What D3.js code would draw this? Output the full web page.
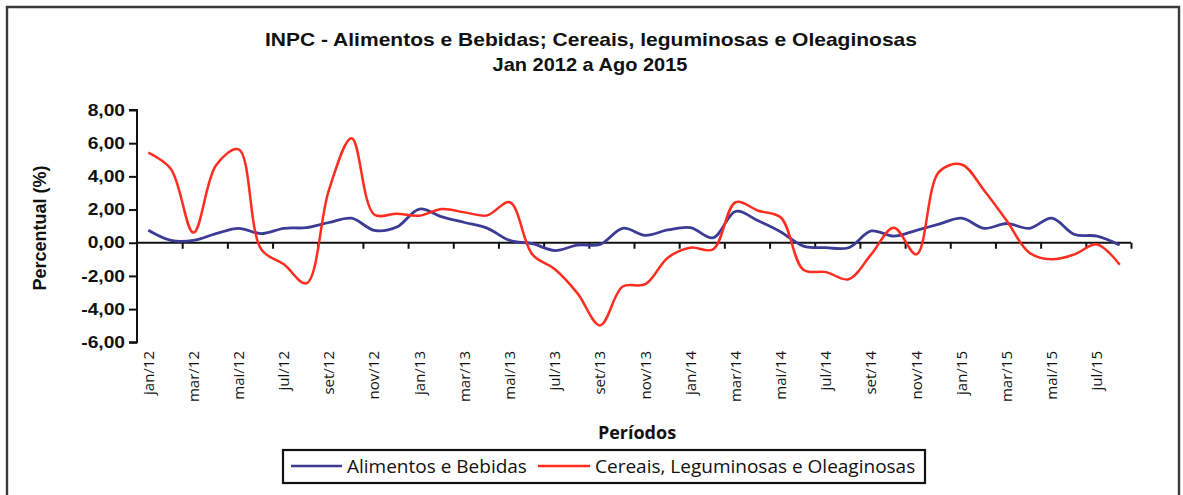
<!DOCTYPE html>
<html>
<head>
<meta charset="utf-8">
<script src="https://cdn.jsdelivr.net/npm/d3@7"></script>
<style>
  html, body { margin: 0; padding: 0; background: #fff; }
  svg { display: block; }
</style>
</head>
<body>
<svg id="chart" width="1183" height="495"></svg>
<script>
const titleLines = ["INPC - Alimentos e Bebidas; Cereais, leguminosas e Oleaginosas", "Jan 2012 a Ago 2015"];
const monthNames = ["jan","fev","mar","abr","mai","jun","jul","ago","set","out","nov","dez"];
const years = ["12","13","14","15"];
const categories = [];
years.forEach(y => monthNames.forEach(m => categories.push(m + "/" + y)));
categories.splice(44); // jan/12 .. ago/15

const seriesNames = ["Alimentos e Bebidas", "Cereais, Leguminosas e Oleaginosas"];
const alimentos = [0.75,0.14,0.14,0.55,0.87,0.55,0.87,0.91,1.22,1.48,0.75,0.95,
                   2.03,1.56,1.22,0.88,0.14,-0.06,-0.47,-0.14,-0.10,0.87,0.45,0.77,
                   0.91,0.30,1.89,1.32,0.65,-0.20,-0.30,-0.30,0.71,0.40,0.75,1.12,
                   1.48,0.87,1.16,0.87,1.48,0.50,0.40,-0.14];
const cereais = [5.43,4.45,0.61,4.67,5.63,-0.40,-1.30,-2.45,3.20,6.30,1.70,1.75,
                 1.63,2.03,1.83,1.65,2.44,-0.70,-1.60,-3.05,-4.98,-2.64,-2.50,-0.90,
                 -0.30,-0.40,2.44,1.93,1.52,-1.63,-1.77,-2.20,-0.70,0.91,-0.70,4.27,
                 4.72,3.15,1.32,-0.60,-1.00,-0.70,-0.10,-1.32];
const yTicks = [-6,-4,-2,0,2,4,6,8];
const xLabelCats = categories.filter((c, i) => i % 2 === 0);
const yLabel = "Percentual (%)";
const xLabel = "Períodos";
const colors = ["#3c3b95", "#ff2d20"];

const svg = d3.select("#chart");
const plotL = 137, plotR = 1131, plotT = 110, plotB = 342.3;

// outer frame (open at the bottom edge)
svg.append("path")
  .attr("d", `M7,496 L7,7 L1179,7 L1179,496`)
  .attr("fill", "none").attr("stroke", "#3a3a3a").attr("stroke-width", 2.4);

const x = d3.scaleBand().domain(categories).range([plotL, plotR]).paddingInner(0).paddingOuter(0);
const xc = c => x(c) + x.bandwidth() / 2;
const xi = d3.scaleLinear().domain([0, categories.length]).range([plotL, plotR]);
const y = d3.scaleLinear().domain([-6, 8]).range([plotB, plotT]);

// title
const title = svg.append("text").attr("text-anchor", "middle")
  .attr("font-family", "Liberation Sans, Arial, sans-serif").attr("font-weight", "bold")
  .attr("font-size", 19).attr("fill", "#111");
title.append("tspan").attr("x", 591).attr("y", 46).attr("textLength", 652)
  .attr("lengthAdjust", "spacingAndGlyphs").text(titleLines[0]);
title.append("tspan").attr("x", 590).attr("y", 71).attr("textLength", 195)
  .attr("lengthAdjust", "spacingAndGlyphs").text(titleLines[1]);

// y axis
const yAxis = svg.append("g").attr("transform", `translate(${plotL},0)`)
  .call(d3.axisLeft(y).tickValues(yTicks).tickSize(8).tickPadding(4)
    .tickFormat(d => d3.format(".2f")(d).replace(".", ",").replace("−", "-")));
yAxis.selectAll("path, line").attr("stroke", "#111").attr("stroke-width", 2);
yAxis.select(".domain").attr("d", `M-8,${y(8)}H0V${y(-6)}H-8`);
yAxis.selectAll("text").attr("font-family", "Liberation Sans, Arial, sans-serif")
  .attr("font-weight", "bold").attr("font-size", 16).attr("fill", "#111")
  .each(function() {
    const w = this.getComputedTextLength();
    d3.select(this).attr("textLength", w * 1.2).attr("lengthAdjust", "spacingAndGlyphs");
  });

// y label
svg.append("text").attr("transform", `translate(46,228) rotate(-90)`)
  .attr("text-anchor", "middle").attr("font-family", "Liberation Sans, Arial, sans-serif")
  .attr("font-weight", "bold").attr("font-size", 18).attr("fill", "#111").text(yLabel);

// x axis line at zero with tick marks between category pairs
const xAxis = svg.append("g").attr("transform", `translate(0,${y(0)})`)
  .call(d3.axisBottom(xi).tickValues(d3.range(2, categories.length + 1, 2)).tickSize(6).tickFormat(""));
xAxis.select(".domain").attr("d", `M${plotL},0H${plotR}`);
xAxis.selectAll("path, line").attr("stroke", "#111").attr("stroke-width", 2);

// x category labels at bottom
const xLab = svg.append("g").attr("transform", `translate(0,351)`)
  .call(d3.axisBottom(x).tickValues(xLabelCats).tickSize(0).tickPadding(0));
xLab.select(".domain").remove();
xLab.selectAll("text")
  .attr("font-family", "Open Sans, sans-serif").attr("font-size", 15).attr("fill", "#111")
  .attr("text-anchor", "end").attr("dy", "0.35em").attr("y", 0).attr("x", 0)
  .attr("transform", "rotate(-90)");

// x title
svg.append("text").attr("x", 637).attr("y", 439).attr("text-anchor", "middle")
  .attr("font-family", "Open Sans, sans-serif").attr("font-weight", "bold")
  .attr("font-size", 18).attr("fill", "#111").text(xLabel);

// lines
const line = d3.line().x((d, i) => xc(categories[i])).y(d => y(d)).curve(d3.curveCatmullRom.alpha(0.5));
[alimentos, cereais].forEach((s, k) => {
  svg.append("path").datum(s).attr("d", line).attr("fill", "none")
    .attr("stroke", colors[k]).attr("stroke-width", k === 0 ? 2.8 : 2.5).attr("stroke-linejoin", "round");
});

// legend
const lg = svg.append("g");
lg.append("rect").attr("x", 283).attr("y", 450).attr("width", 642).attr("height", 33)
  .attr("fill", "#fff").attr("stroke", "#111").attr("stroke-width", 2.2);
const legendItems = [
  {name: seriesNames[0], color: colors[0], x1: 291, x2: 342, tx: 347},
  {name: seriesNames[1], color: colors[1], x1: 538, x2: 590, tx: 595}
];
legendItems.forEach(it => {
  lg.append("line").attr("x1", it.x1).attr("x2", it.x2).attr("y1", 466).attr("y2", 466)
    .attr("stroke", it.color).attr("stroke-width", 2.6);
  lg.append("text").attr("x", it.tx).attr("y", 473).attr("font-family", "Open Sans, sans-serif")
    .attr("font-size", 19).attr("fill", "#111").text(it.name);
});
</script>
</body>
</html>
